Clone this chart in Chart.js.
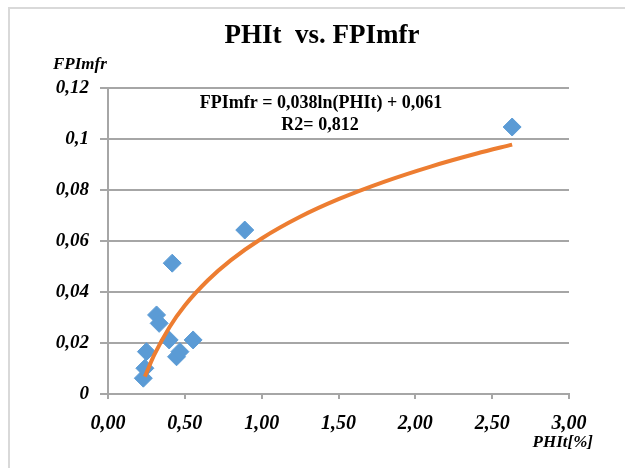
<!DOCTYPE html>
<html>
<head>
<meta charset="utf-8">
<script src="https://cdn.jsdelivr.net/npm/chart.js@4/dist/chart.umd.min.js"></script>
<style>
    html, body { margin: 0; padding: 0; background: #fff; }
    #wrap { position: relative; width: 625px; height: 468px; }
    #frame { position: absolute; left: 8px; top: 7px; right: 0; bottom: 0; border-top: 2px solid #d9d9d9; border-left: 2px solid #d9d9d9; }
    canvas { position: absolute; left: 0; top: 0; }
</style>
</head>
<body>
<div id="wrap"><div id="frame"></div><canvas id="chart" width="625" height="468"></canvas></div>
<script>
const phit = [0.23, 0.24, 0.25, 0.316, 0.333, 0.398, 0.418, 0.446, 0.468, 0.554, 0.89, 2.63];
const fpimfr = [0.0062, 0.0101, 0.0166, 0.031, 0.0277, 0.0212, 0.0513, 0.0146, 0.0166, 0.0212, 0.0643, 0.1047];

// log trend line, sampled off the drawn curve
const trendX = [0.24, 0.30, 0.40, 0.50, 0.65, 0.80, 1.00, 1.25, 1.50, 1.80, 2.10, 2.40, 2.63];
const trendY = [0.0068, 0.0152, 0.0262, 0.0347, 0.0446, 0.0525, 0.0610, 0.0695, 0.0764, 0.0833, 0.0892, 0.0943, 0.0978];

const xTickLabels = ['0,00', '0,50', '1,00', '1,50', '2,00', '2,50', '3,00'];
const yTickLabels = ['0', '0,02', '0,04', '0,06', '0,08', '0,1', '0,12'];

const titleText = 'PHIt  vs. FPImfr';
const equationText = 'FPImfr = 0,038ln(PHIt) + 0,061';
const r2Text = 'R2= 0,812';
const yAxisTitle = 'FPImfr';
const xAxisTitle = 'PHIt[%]';

(function () {
    const serif = '"Liberation Serif", "Times New Roman", serif';
    const gridColor = '#a6a6a6';

    const labels = {
        id: 'labels',
        afterDraw(chart) {
            const ctx = chart.ctx;
            const area = chart.chartArea;
            ctx.save();
            ctx.fillStyle = '#000';
            ctx.textBaseline = 'alphabetic';

            ctx.textAlign = 'center';
            ctx.font = `bold 27px ${serif}`;
            ctx.fillText(titleText, 322, 43);

            ctx.font = `bold 18px ${serif}`;
            ctx.fillText(equationText, 321, 108);
            ctx.fillText(r2Text, 320, 130);

            ctx.textAlign = 'left';
            ctx.font = `italic bold 17px ${serif}`;
            ctx.fillText(yAxisTitle, 53, 69);

            ctx.textAlign = 'right';
            ctx.fillText(xAxisTitle, area.right + 24, 447);
            ctx.restore();
        },
    };

    new Chart(document.getElementById('chart'), {
        type: 'scatter',
        data: { datasets: [
            { label: 'Trend', data: trendX.map((x, i) => ({ x, y: trendY[i] })), showLine: true, borderColor: '#ed7d31', borderWidth: 4, pointRadius: 0, tension: 0.4, cubicInterpolationMode: 'monotone' },
            { label: 'FPImfr', data: phit.map((x, i) => ({ x, y: fpimfr[i] })), pointStyle: 'rectRot', pointRadius: 9, backgroundColor: '#5b9bd5', borderColor: '#5b9bd5', borderWidth: 1 },
        ]},
        options: {
            responsive: false, animation: false,
            layout: { padding: { left: 0, top: 88, right: 56, bottom: 0 } },
            plugins: { legend: { display: false }, tooltip: { enabled: false }, title: { display: false } },
            scales: {
                x: {
                    type: 'linear', min: 0, max: 3,
                    afterFit: (scale) => { scale.height = 74; },
                    afterBuildTicks: (scale) => { scale.ticks = xTickLabels.map((_, i) => ({ value: i * 0.5 })); },
                    ticks: { color: '#000', padding: 13, maxRotation: 0, font: { family: serif, size: 20, style: 'italic', weight: 'bold' }, callback: (v, i) => xTickLabels[i] },
                    grid: { drawOnChartArea: false, drawTicks: true, tickLength: 5, color: gridColor, lineWidth: 2 },
                    border: { color: gridColor, width: 2 },
                },
                y: {
                    min: 0, max: 0.12,
                    afterFit: (scale) => { scale.width = 108; },
                    afterBuildTicks: (scale) => { scale.ticks = yTickLabels.map((_, i) => ({ value: i * 0.02 })); },
                    ticks: { color: '#000', padding: 11, font: { family: serif, size: 19, style: 'italic', weight: 'bold' }, callback: (v, i) => yTickLabels[i] },
                    grid: { color: gridColor, lineWidth: 2, tickLength: 8 },
                    border: { color: gridColor, width: 2 },
                },
            },
        },
        plugins: [labels],
    });
})();
</script>
</body>
</html>
